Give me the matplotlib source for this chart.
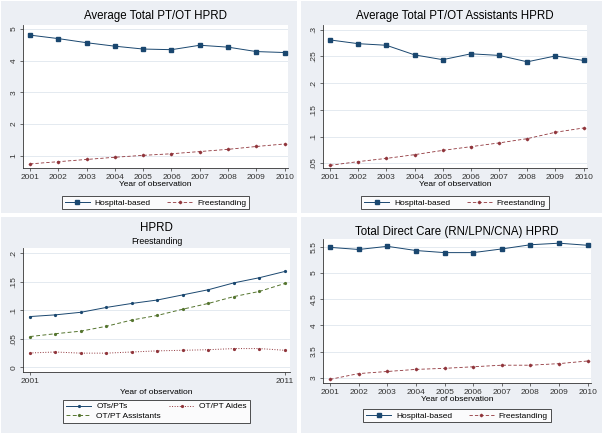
import matplotlib.pyplot as plt
from matplotlib.patches import Rectangle

plt.rcParams['font.family'] = ['Liberation Sans', 'DejaVu Sans']

years = list(range(2001, 2011))
years11 = list(range(2001, 2012))

# Average Total PT/OT HPRD
ptot_hosp = [4.81, 4.70, 4.57, 4.46, 4.37, 4.35, 4.49, 4.43, 4.29, 4.26]
ptot_free = [0.74, 0.81, 0.88, 0.95, 1.01, 1.06, 1.13, 1.20, 1.29, 1.37]

# Average Total PT/OT Assistants HPRD
asst_hosp = [0.281, 0.274, 0.271, 0.253, 0.244, 0.255, 0.252, 0.240, 0.251, 0.2425]
asst_free = [0.046, 0.053, 0.059, 0.066, 0.074, 0.081, 0.088, 0.096, 0.108, 0.116]

# HPRD, Freestanding
ots_pts = [0.089, 0.092, 0.0965, 0.105, 0.112, 0.118, 0.127, 0.136, 0.148, 0.157, 0.168]
ot_pt_asst = [0.054, 0.059, 0.0635, 0.072, 0.083, 0.091, 0.102, 0.112, 0.124, 0.133, 0.147]
ot_pt_aides = [0.0253, 0.027, 0.025, 0.025, 0.027, 0.029, 0.030, 0.031, 0.033, 0.033, 0.030]

# Total Direct Care HPRD
dc_hosp = [5.49, 5.45, 5.51, 5.43, 5.39, 5.39, 5.46, 5.54, 5.57, 5.53]
dc_free = [2.97, 3.08, 3.12, 3.16, 3.18, 3.21, 3.24, 3.24, 3.27, 3.32]

W, H = 603, 434
BG = '#ECEFF4'
NAVY = '#1A476F'
MAROON = '#90353B'
OLIVE = '#55752F'
FS = 6.0

fig = plt.figure(figsize=(W / 100, H / 100), dpi=100)
fig.patch.set_facecolor('white')


def px_rect(x0, y0, x1, y1):
    # pixel box (top-left origin) -> figure fraction [l, b, w, h]
    return [x0 / W, 1 - y1 / H, (x1 - x0) / W, (y1 - y0) / H]


def panel_bg(x0, y0, x1, y1):
    l, b, w, h = px_rect(x0, y0, x1, y1)
    fig.patches.append(Rectangle((l, b), w, h, transform=fig.transFigure,
                                 facecolor=BG, edgecolor='none', zorder=-5))


def make_ax(box, xlim, ylim, yticks, ylabels):
    ax = fig.add_axes(px_rect(*box))
    ax.set_zorder(2)
    ax.set_facecolor('white')
    ax.set_xlim(*xlim)
    ax.set_ylim(*ylim)
    ax.set_yticks(yticks)
    ax.set_yticklabels(ylabels, rotation=90, va='center')
    ax.grid(axis='y', color='#E4EAF0', linewidth=0.7)
    ax.set_axisbelow(True)
    for s in ['top', 'right']:
        ax.spines[s].set_visible(False)
    for s in ['left', 'bottom']:
        ax.spines[s].set_color('#333333')
        ax.spines[s].set_linewidth(0.6)
    ax.tick_params(labelsize=FS, length=2.5, width=0.5, pad=1.5, colors='#333333')
    return ax


def legend(ax, ncol, bbox, colsp=2.0):
    leg = ax.legend(loc='upper center', bbox_to_anchor=bbox, ncol=ncol, fontsize=FS,
                    frameon=True, fancybox=False, handlelength=3.0, columnspacing=colsp,
                    borderpad=0.35, labelspacing=0.25, handletextpad=0.6)
    leg.get_frame().set_edgecolor('black')
    leg.get_frame().set_linewidth(0.6)
    return leg


def two_series(ax, x, hosp, free):
    ax.plot(x, hosp, '-', color=NAVY, lw=0.7, marker='s', ms=2.2, label='Hospital-based')
    ax.plot(x, free, '--', color=MAROON, lw=0.6, marker='D', ms=1.3,
            dashes=(4, 2.5), label='Freestanding')


panel_bg(1, 1, 297, 213)
panel_bg(301, 1, 602, 213)
panel_bg(1, 217, 297, 433)
panel_bg(301, 217, 602, 433)

# panel 1
ax1 = make_ax((23, 25, 288, 168), (2000.75, 2010.12), (0.61, 5.13),
              [1, 2, 3, 4, 5], ['1', '2', '3', '4', '5'])
two_series(ax1, years, ptot_hosp, ptot_free)
ax1.set_xticks(years)
ax1.set_title('Average Total PT/OT HPRD', fontsize=8.3, pad=4)
ax1.set_xlabel('Year of observation', fontsize=FS, labelpad=0)
legend(ax1, 2, (0.5, -0.165))

# panel 2
ax2 = make_ax((323, 25, 587, 168), (2000.75, 2010.12), (0.041, 0.309),
              [0.05, 0.1, 0.15, 0.2, 0.25, 0.3], ['.05', '.1', '.15', '.2', '.25', '.3'])
two_series(ax2, years, asst_hosp, asst_free)
ax2.set_xticks(years)
ax2.set_title('Average Total PT/OT Assistants HPRD', fontsize=8.3, pad=4)
ax2.set_xlabel('Year of observation', fontsize=FS, labelpad=0)
legend(ax2, 2, (0.5, -0.165))

# panel 3
ax3 = make_ax((23, 248, 290, 372), (2000.73, 2011.2), (-0.008, 0.209),
              [0, 0.05, 0.1, 0.15, 0.2], ['0', '.05', '.1', '.15', '.2'])
ax3.plot(years11, ots_pts, '-', color=NAVY, lw=0.7, marker='o', ms=1.3, label='OTs/PTs')
ax3.plot(years11, ot_pt_asst, '--', color=OLIVE, lw=0.7, marker='o', ms=1.3,
         dashes=(4, 2.5), label='OT/PT Assistants')
ax3.plot(years11, ot_pt_aides, ':', color=MAROON, lw=0.7, marker='o', ms=1.3,
         label='OT/PT Aides')
ax3.set_xticks([2001, 2011])
ax3.set_title('Freestanding', fontsize=6.3, pad=3)
ax3.text(0.5, 1.115, 'HPRD', transform=ax3.transAxes, ha='center', va='bottom', fontsize=8.3)
ax3.set_xlabel('Year of observation', fontsize=FS, labelpad=3)
legend(ax3, 2, (0.5, -0.19), colsp=1.0)

# panel 4
ax4 = make_ax((323, 239, 591, 383), (2000.75, 2010.12), (2.9, 5.65),
              [3, 3.5, 4, 4.5, 5, 5.5], ['3', '3.5', '4', '4.5', '5', '5.5'])
two_series(ax4, years, dc_hosp, dc_free)
ax4.set_xticks(years)
ax4.set_title('Total Direct Care (RN/LPN/CNA) HPRD', fontsize=8.3, pad=3)
ax4.set_xlabel('Year of observation', fontsize=FS, labelpad=0)
legend(ax4, 2, (0.5, -0.15))

fig.savefig('out.png', dpi=100, facecolor='white')
